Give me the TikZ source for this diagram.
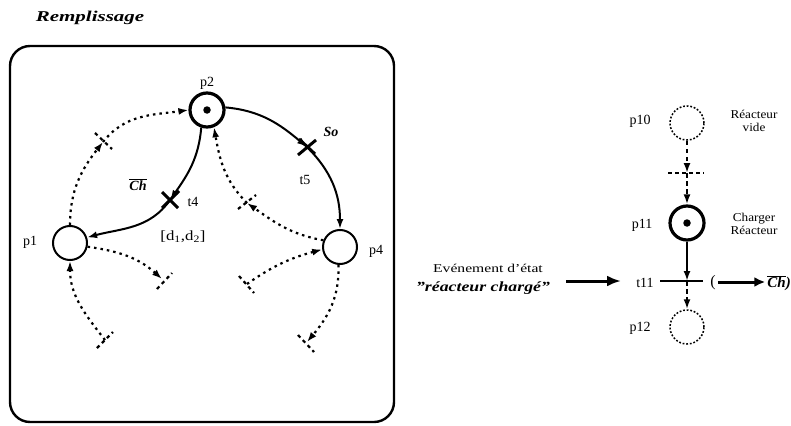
\documentclass[tikz,border=0pt]{standalone}
\usepackage{fontspec}
\setmainfont{Liberation Serif}
\usetikzlibrary{arrows.meta,calc}
\begin{document}
\begin{tikzpicture}[x=1pt,y=1pt,
  place/.style={circle,draw,minimum size=34pt,inner sep=0pt,line width=2pt},
  marked/.style={place,line width=3.2pt},
  ghost/.style={place,line width=1.5pt,dash pattern=on 1.8pt off 1.8pt},
  tok/.style={circle,fill,inner sep=0pt,minimum size=7.5pt},
  lbl/.style={font=\fontsize{14}{14}\selectfont,inner sep=0pt},
  small/.style={font=\fontsize{12}{13}\selectfont,inner sep=0pt,align=center},
  bi/.style={font=\fontsize{14}{14}\bfseries\itshape\selectfont,inner sep=0pt},
  arc/.style={line width=2pt,-{Latex[length=10pt,width=7pt]}},
  dotarc/.style={line width=2.2pt,dash pattern=on 2.5pt off 4pt,-{Latex[length=10pt,width=7pt]}},
  dasharc/.style={line width=2.2pt,dash pattern=on 4.5pt off 3.5pt,-{Latex[length=10pt,width=7pt]}},
  cross/.style={line width=3pt},
  pbar/.style={line width=2.2pt,dash pattern=on 3.5pt off 3.5pt},
  tbar/.style={line width=2.6pt}
]
\useasboundingbox (0,0) rectangle (791,-425);

% title
\node[font=\fontsize{15}{15}\bfseries\itshape\selectfont,inner sep=0pt] (title) at (90,-18) {\scalebox{1.4}[1]{Remplissage}};

% frame
\node[draw,line width=2.4pt,rounded corners=20pt,minimum width=384pt,minimum height=376pt,inner sep=0pt] (frame) at (202,-234) {};

% places left
\node[marked] (p2) at (207,-110) {};
\node[tok] (p2t) at (p2.center) {};
\node[place] (p1) at (70,-243) {};
\node[place] (p4) at (340,-247) {};

\node[lbl] (p2l) at (207,-83) {p2};
\node[lbl] (p1l) at (30,-242) {p1};
\node[lbl] (p4l) at (376,-251) {p4};

% transitions
\coordinate (t4) at (170,-200);
\coordinate (t5) at (307,-147);
\draw[cross] ($(t4)+(-8,8)$) -- ($(t4)+(8,-8)$);
\draw[cross] ($(t4)+(-8,-8)$) -- ($(t4)+(9,9)$);
\draw[cross] ($(t5)+(-9,-8)$) -- ($(t5)+(9,7)$);
\draw[cross] ($(t5)+(-8,8)$) -- ($(t5)+(8,-7)$);

\node[lbl] (t4l) at (193,-202) {t4};
\node[lbl] (t4d) at (183,-237) {\scalebox{1.2}[1]{[d\textsubscript{1},d\textsubscript{2}]}};
\node[bi] (chl) at (138,-185) {$\overline{\mbox{\itshape\bfseries Ch}}$};
\node[lbl] (t5l) at (305,-180) {t5};
\node[bi] (sol) at (331,-132) {So};

% solid arcs
\draw[arc] (p2.252) to[out=-95,in=55] (t4);
\draw[arc] (t4) to[out=-125,in=15] (p1.18);
\draw[arc] (p2.8) to[out=-5,in=140] (t5);
\draw[arc] (t5) to[out=-45,in=90] (p4.north);

% partial transitions
\coordinate (ta) at (103,-142);
\coordinate (tb) at (162,-279);
\coordinate (tc) at (105,-340);
\coordinate (td) at (247,-203);
\coordinate (te) at (247,-284);
\coordinate (tf) at (307,-342);
\draw[pbar] ($(ta)+(-8,9)$) -- ($(ta)+(9,-7)$);
\draw[pbar] ($(tb)+(-5,-10)$) -- ($(tb)+(10,6)$);
\draw[pbar] ($(tc)+(-8,-8)$) -- ($(tc)+(8,8)$);
\draw[pbar] ($(td)+(-9,-6)$) -- ($(td)+(9,8)$);
\draw[pbar] ($(te)+(-8,8)$) -- ($(te)+(7,-9)$);
\draw[pbar] ($(tf)+(-9,7)$) -- ($(tf)+(7,-10)$);

% dotted arcs
\draw[dotarc] (p1.north) to[out=90,in=232] (ta);
\draw[dotarc] (ta) to[out=52,in=188] (p2.west);
\draw[dotarc] (p1.-12) to[out=-8,in=138] (tb);
\draw[dotarc] (tc) to[out=128,in=-90] (p1.south);
\draw[dotarc] (p4.158) to[out=170,in=-35] (td);
\draw[dotarc] (td) to[out=135,in=-80] (p2.292);
\draw[dotarc] (te) to[out=35,in=195] (p4.188);
\draw[dotarc] (p4.-95) to[out=-88,in=50] (tf);

% right net
\node[ghost] (p10) at (687,-123) {};
\node[marked] (p11) at (687,-223) {};
\node[tok] (p11t) at (p11.center) {};
\node[ghost] (p12) at (687,-327) {};
\coordinate (tt) at (687,-173);
\coordinate (t11) at (687,-281);
\draw[pbar] ($(tt)+(-19,0)$) -- ($(tt)+(17,0)$);
\draw[tbar] ($(t11)+(-27,0)$) -- ($(t11)+(16,0)$);
\draw[dasharc] (p10.south) -- (tt);
\draw[dasharc] (tt) -- (p11.north);
\draw[arc] (p11.south) -- (t11);
\draw[dasharc] (t11) -- (p12.north);

\node[lbl] (p10l) at (640,-121) {p10};
\node[lbl] (p11l) at (642,-225) {p11};
\node[lbl] (t11l) at (645,-283) {t11};
\node[lbl] (p12l) at (640,-328) {p12};
\node[small] (rv) at (754,-121) {\scalebox{1.1}[1]{Réacteur}\\\scalebox{1.1}[1]{vide}};
\node[small] (cr) at (754,-224) {\scalebox{1.1}[1]{Charger}\\\scalebox{1.1}[1]{Réacteur}};

\node[lbl,font=\fontsize{16}{16}\selectfont] (lp) at (713,-283) {(};
\node[bi,anchor=east,font=\fontsize{15}{15}\bfseries\itshape\selectfont] (chr) at (791,-283) {$\overline{\mbox{\itshape\bfseries Ch}}$)};
\draw[line width=3pt,-{Latex[length=11pt,width=10pt]}] (lp.east) ++(2,1) coordinate (la) -- ($(chr.west |- la)+(-2,0)$) coordinate (lb);

% event
\node[small] (ev1) at (488,-268) {\scalebox{1.3}[1]{Evénement d'état}};
\node[bi,font=\fontsize{14}{14}\bfseries\itshape\selectfont] (ev2) at (483,-288) {\scalebox{1.27}[1]{''réacteur chargé''}};
\coordinate (ea) at (566,-281);
\coordinate (eb) at (621,-281);
\draw[line width=3pt,-{Latex[length=14pt,width=11pt]}] (ea) -- (eb);
\end{tikzpicture}
\end{document}
